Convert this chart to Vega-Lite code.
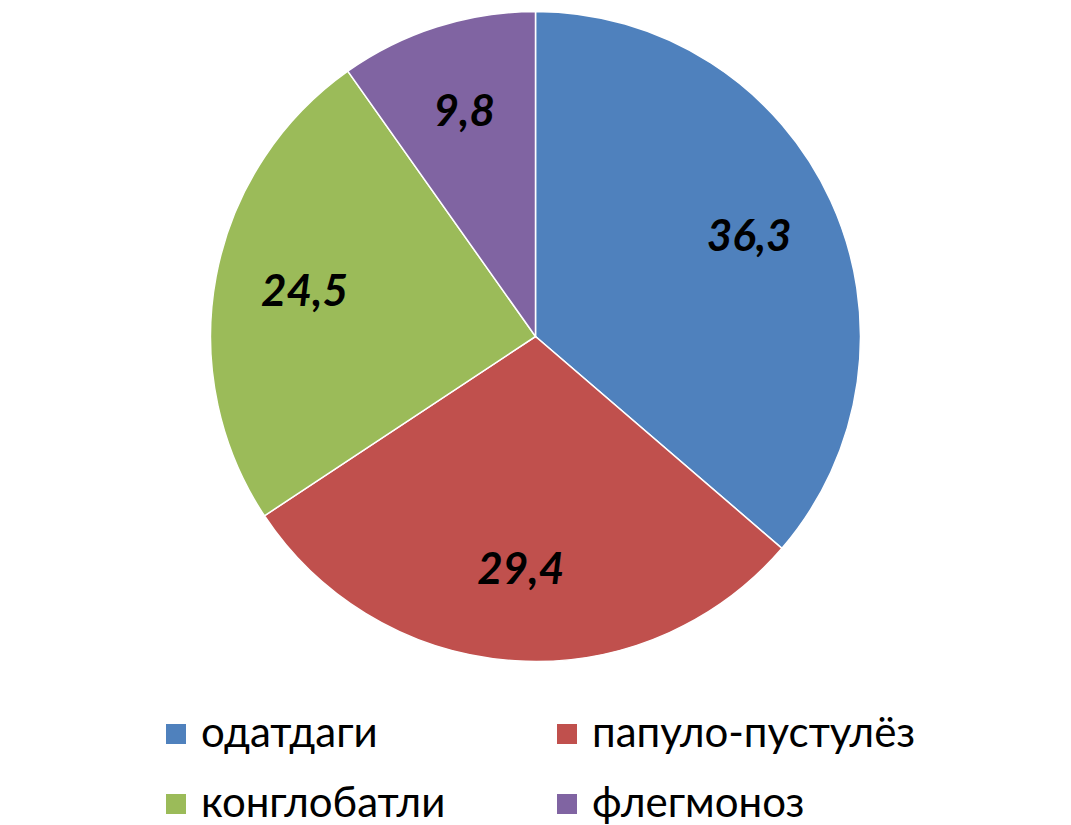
{
  "$schema": "https://vega.github.io/schema/vega-lite/v6.json",
  "width": 1071,
  "height": 825,
  "autosize": {"type": "fit", "contains": "padding"},
  "padding": 0,
  "background": "white",
  "data": {
    "values": [
      {"category": "одатдаги", "value": 36.3, "label": "36,3", "order": 1},
      {"category": "папуло-пустулёз", "value": 29.4, "label": "29,4", "order": 2},
      {"category": "конглобатли", "value": 24.5, "label": "24,5", "order": 3},
      {"category": "флегмоноз", "value": 9.8, "label": "9,8", "order": 4}
    ]
  },
  "encoding": {
    "theta": {"field": "value", "type": "quantitative", "stack": true},
    "order": {"field": "order", "type": "quantitative"},
    "color": {
      "field": "category",
      "type": "nominal",
      "sort": ["одатдаги", "папуло-пустулёз", "конглобатли", "флегмоноз"],
      "scale": {
        "domain": ["одатдаги", "папуло-пустулёз", "конглобатли", "флегмоноз"],
        "range": ["#4F81BD", "#C0504D", "#9BBB59", "#8064A2"]
      },
      "legend": {
        "orient": "bottom",
        "direction": "horizontal",
        "columns": 2,
        "title": null,
        "symbolType": "square",
        "symbolSize": 400,
        "symbolStrokeWidth": 0,
        "labelFontSize": 42,
        "labelFont": "Lato",
        "labelColor": "black",
        "labelLimit": 500,
        "columnPadding": 100,
        "rowPadding": 28,
        "offset": 40
      }
    }
  },
  "layer": [
    {"mark": {"type": "arc", "outerRadius": 325, "stroke": "white", "strokeWidth": 1.5}},
    {
      "mark": {"type": "text", "radius": 235, "fontSize": 44, "fontWeight": "bold", "fontStyle": "italic", "font": "Lato"},
      "encoding": {"text": {"field": "label", "type": "nominal"}, "color": {"value": "black"}}
    }
  ],
  "config": {
    "view": {"stroke": null},
    "legend": {"layout": {"bottom": {"anchor": "middle"}}}
  }
}
